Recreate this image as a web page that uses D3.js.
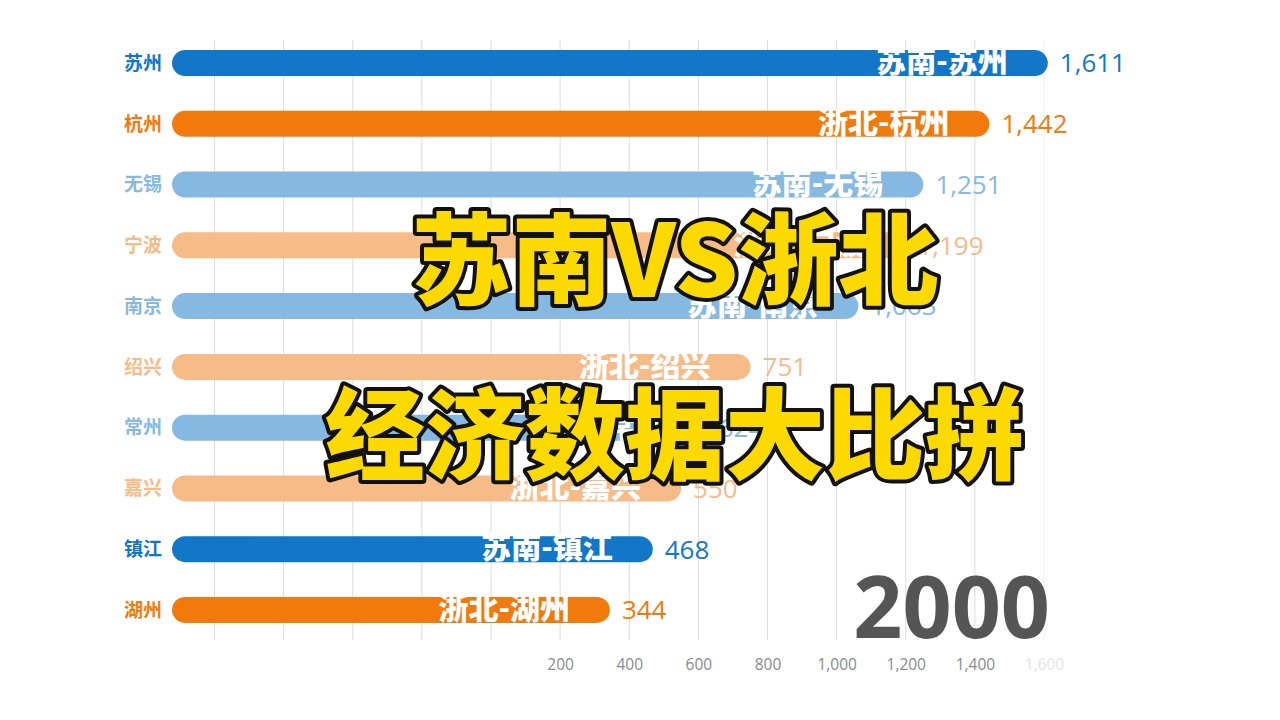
<!DOCTYPE html>
<html><head><meta charset="utf-8">
<script src="https://cdn.jsdelivr.net/npm/d3@7"></script>
<style>
html,body{margin:0;padding:0;background:#fff;}
svg{display:block;}
</style></head>
<body>
<svg id="chart" width="1280" height="720"></svg>
<script>
const cities = ["苏州","杭州","无锡","宁波","南京","绍兴","常州","嘉兴","镇江","湖州"];
const regions = ["苏南","浙北","苏南","浙北","苏南","浙北","苏南","浙北","苏南","浙北"];
const values = [1611,1442,1251,1199,1063,751,624,550,468,344];
const highlight = [true,true,false,false,false,false,false,false,true,true];
const tickValues = [200,400,600,800,1000,1200,1400,1600];
const gridValues = [-800,-600,-400,-200,0,200,400,600,800,1000,1200,1400,1600];
const year = "2000";
const titleLines = ["苏南VS浙北","经济数据大比拼"];

const colorMap = {
  "苏南": {strong:"#1277c9", light:"#86b9e2"},
  "浙北": {strong:"#f27a0c", light:"#f7bb88"}
};

const svg = d3.select("#chart");
const barStart = 172;
const x = d3.scaleLinear().domain([0,1600]).range([491,1044]);
const y = d3.scaleBand().domain(cities).range([33,640]).paddingInner(0.57).paddingOuter(0.28);
const barH = 26;

const data = cities.map((c,i)=>({city:c, region:regions[i], value:values[i],
  color: highlight[i] ? colorMap[regions[i]].strong : colorMap[regions[i]].light}));

// gridlines
svg.append("g").selectAll("line").data(gridValues).join("line")
  .attr("x1",d=>x(d)).attr("x2",d=>x(d))
  .attr("y1",40).attr("y2",640)
  .attr("stroke",d=>d===1600?"#efefef":"#dcdcdc").attr("stroke-width",1);

// axis
const axis = d3.axisBottom(x).tickValues(tickValues).tickSize(0).tickFormat(d3.format(","));
const ag = svg.append("g").attr("transform","translate(0,656)").call(axis);
ag.select(".domain").remove();
ag.selectAll("text").attr("font-family","'Open Sans','Noto Sans',sans-serif")
  .attr("font-size",15.5).attr("fill",d=>d===1600?"#e4e4e4":"#8a8a8a").attr("dy","0.71em");

// bars
const rows = svg.append("g").selectAll("g").data(data).join("g")
  .attr("transform",d=>`translate(0,${y(d.city)+y.bandwidth()/2})`);

rows.append("rect")
  .attr("x",barStart).attr("y",-barH/2)
  .attr("width",d=>x(d.value)-barStart).attr("height",barH)
  .attr("rx",barH/2).attr("ry",barH/2)
  .attr("fill",d=>d.color);

rows.append("text")
  .attr("x",barStart-10).attr("dy","0.36em")
  .attr("text-anchor","end")
  .attr("font-family","'Noto Sans CJK SC',sans-serif").attr("font-weight","bold")
  .attr("font-size",19).attr("fill",d=>d.color)
  .text(d=>d.city);

rows.append("text")
  .attr("x",d=>x(d.value)-40).attr("dy","0.3em")
  .attr("text-anchor","end")
  .attr("font-family","'Noto Sans CJK SC',sans-serif").attr("font-weight","900")
  .attr("font-size",30).attr("fill","#fff")
  .text(d=>d.region+"-"+d.city);

rows.append("text")
  .attr("x",d=>x(d.value)+12).attr("dy","0.36em")
  .attr("font-family","'Open Sans','Noto Sans',sans-serif")
  .attr("font-size",26).attr("fill",d=>d.color)
  .text(d=>d3.format(",")(d.value));

// year
svg.append("text").attr("x",1050).attr("y",638).attr("text-anchor","end")
  .attr("font-family","'Open Sans','Noto Sans',sans-serif").attr("font-weight","bold")
  .attr("font-size",86).attr("fill","#555555").text(year);

// title overlay
svg.append("g").selectAll("text").data(titleLines).join("text")
  .attr("x",675).attr("y",(d,i)=>i===0?297:472)
  .attr("text-anchor","middle")
  .attr("font-family","'Noto Sans CJK SC',sans-serif").attr("font-weight","900")
  .attr("font-size",100)
  .attr("fill","#fcda00").attr("stroke","#111").attr("stroke-width",8)
  .attr("stroke-linejoin","round").attr("paint-order","stroke")
  .text(d=>d);
</script>
</body></html>
